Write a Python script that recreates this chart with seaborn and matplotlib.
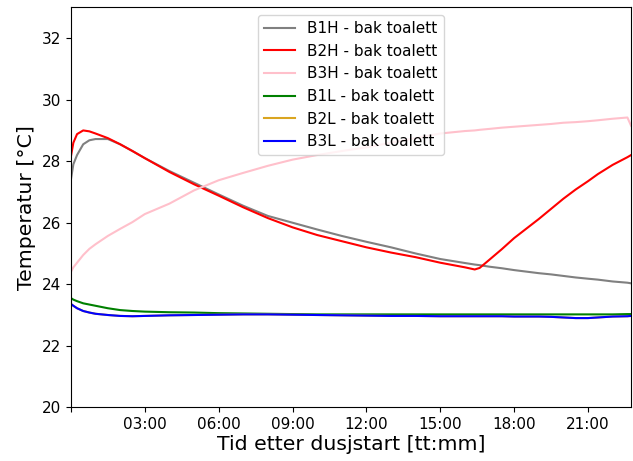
import numpy as np
import pandas as pd
import matplotlib
matplotlib.use("Agg")
import matplotlib.pyplot as plt
import seaborn as sns

# Hours after the shower started
hours = [0, 0.1, 0.25, 0.5, 0.75, 1.0, 1.5, 2, 2.5, 3, 4, 5, 6, 7, 8, 9, 10,
         11, 12, 13, 14, 15, 16, 16.4, 16.6, 17, 17.5, 18, 19, 19.5, 20, 20.5,
         21, 21.4, 22, 22.6, 22.75]

# Temperature readings [°C] per sensor
b1h = [27.4, 27.9, 28.2, 28.55, 28.68, 28.72, 28.72, 28.55, 28.33, 28.1, 27.68,
       27.3, 26.92, 26.55, 26.22, 26.0, 25.78, 25.57, 25.38, 25.2, 25.0, 24.82,
       24.69, 24.64, 24.62, 24.57, 24.52, 24.46, 24.36, 24.32, 24.27, 24.22,
       24.18, 24.15, 24.09, 24.05, 24.03]
b2h = [28.15, 28.6, 28.88, 29.0, 28.97, 28.9, 28.75, 28.55, 28.33, 28.1, 27.65,
       27.25, 26.88, 26.5, 26.15, 25.85, 25.6, 25.4, 25.2, 25.03, 24.88, 24.7,
       24.55, 24.48, 24.53, 24.8, 25.14, 25.5, 26.12, 26.45, 26.78, 27.08,
       27.35, 27.58, 27.88, 28.13, 28.2]
b3h = [24.4, 24.55, 24.7, 24.95, 25.15, 25.3, 25.57, 25.8, 26.02, 26.28, 26.62,
       27.05, 27.38, 27.62, 27.85, 28.05, 28.2, 28.33, 28.45, 28.6, 28.75, 28.9,
       28.98, 29.0, 29.02, 29.05, 29.09, 29.12, 29.18, 29.21, 29.25, 29.27,
       29.3, 29.33, 29.38, 29.42, 29.15]
b1l = [23.55, 23.5, 23.45, 23.38, 23.34, 23.3, 23.22, 23.16, 23.13, 23.11, 23.09,
       23.08, 23.06, 23.05, 23.04, 23.03, 23.02, 23.02, 23.02, 23.02, 23.02, 23.02,
       23.02, 23.02, 23.02, 23.02, 23.02, 23.02, 23.02, 23.02, 23.02, 23.02,
       23.02, 23.02, 23.02, 23.03, 23.03]
b3l = [23.36, 23.3, 23.22, 23.13, 23.08, 23.04, 23.0, 22.97, 22.96, 22.97, 22.99,
       23.0, 23.01, 23.02, 23.02, 23.01, 23.0, 22.99, 22.98, 22.97, 22.97, 22.96,
       22.96, 22.96, 22.96, 22.96, 22.96, 22.95, 22.95, 22.94, 22.92, 22.9,
       22.9, 22.92, 22.95, 22.96, 22.97]
# B2L logged the same values as B3L and lies underneath it
b2l = list(b3l)

sensors = ["B1H - bak toalett", "B2H - bak toalett", "B3H - bak toalett",
           "B1L - bak toalett", "B2L - bak toalett", "B3L - bak toalett"]
series = [b1h, b2h, b3h, b1l, b2l, b3l]
colors = ["grey", "red", "pink", "green", "goldenrod", "blue"]

x_ticks = [0, 3, 6, 9, 12, 15, 18, 21]
x_ticklabels = ["", "03:00", "06:00", "09:00", "12:00", "15:00", "18:00", "21:00"]
y_ticks = [20, 22, 24, 26, 28, 30, 32]

df = pd.concat(
    [pd.DataFrame({"timer": hours, "temp": vals, "sensor": name})
     for name, vals in zip(sensors, series)],
    ignore_index=True,
)

fig = plt.figure(figsize=(6.33, 4.61), dpi=100)
ax = fig.add_axes([0.112, 0.1165, 0.885, 0.8675])

sns.lineplot(data=df, x="timer", y="temp", hue="sensor",
             palette=dict(zip(sensors, colors)), hue_order=sensors,
             linewidth=1.5, ax=ax)

ax.set_xlim(0, 22.75)
ax.set_ylim(20, 33)
ax.set_xticks(x_ticks)
ax.set_xticklabels(x_ticklabels)
ax.set_yticks(y_ticks)
ax.tick_params(labelsize=11)
ax.set_xlabel("Tid etter dusjstart [tt:mm]", fontsize=14.7, labelpad=2)
ax.set_ylabel("Temperatur [°C]", fontsize=14.7)

handles, labels = ax.get_legend_handles_labels()
ax.legend(handles, labels, loc="upper center", fontsize=11)

fig.savefig("out.png", dpi=100)
